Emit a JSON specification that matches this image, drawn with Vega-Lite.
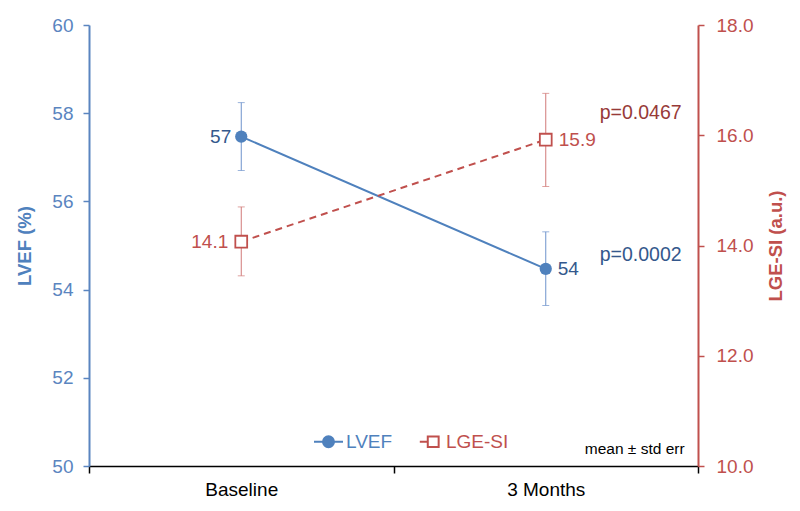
{
  "$schema": "https://vega.github.io/schema/vega-lite/v6.json",
  "width": 609,
  "height": 441,
  "autosize": "none",
  "padding": {"left": 89, "top": 25, "right": 102, "bottom": 45},
  "background": "white",
  "config": {
    "font": "Liberation Sans",
    "view": {"stroke": null},
    "axis": {"grid": false}
  },
  "datasets": {
    "stats": [
      {"series": "LVEF", "time": "Baseline", "mean": 57.47, "lo": 56.70, "hi": 58.24},
      {"series": "LVEF", "time": "3 Months", "mean": 54.47, "lo": 53.64, "hi": 55.31},
      {"series": "LGE-SI", "time": "Baseline", "mean": 14.07, "lo": 13.45, "hi": 14.70},
      {"series": "LGE-SI", "time": "3 Months", "mean": 15.92, "lo": 15.07, "hi": 16.76}
    ]
  },
  "data": {"name": "stats"},
  "encoding": {
    "x": {
      "field": "time",
      "type": "nominal",
      "sort": ["Baseline", "3 Months"],
      "scale": {"type": "band", "paddingInner": 0, "paddingOuter": 0},
      "axis": {
        "title": null,
        "labelAngle": 0,
        "tickBand": "extent",
        "domainColor": "black",
        "domainWidth": 1.5,
        "tickColor": "black",
        "tickWidth": 1.5,
        "tickSize": 7,
        "labelFontSize": 19,
        "labelColor": "black",
        "labelPadding": 7
      }
    }
  },
  "layer": [
    {
      "encoding": {
        "y": {
          "field": "mean",
          "type": "quantitative",
          "scale": {"domain": [50, 60], "nice": false, "zero": false},
          "axis": {
            "title": "LVEF (%)",
            "values": [50, 52, 54, 56, 58, 60],
            "domainColor": "#5A85C0",
            "domainWidth": 2,
            "tickColor": "#5A85C0",
            "tickWidth": 1.5,
            "tickSize": 6,
            "labelColor": "#5A85C0",
            "labelFontSize": 19,
            "labelPadding": 10,
            "titleColor": "#4F81BD",
            "titleFontSize": 18.5,
            "titleFontWeight": "bold",
            "titlePadding": 17
          }
        }
      },
      "layer": [
        {
          "transform": [{"filter": "datum.series === 'LVEF'"}],
          "mark": {"type": "rule", "color": "#6E93CC", "strokeWidth": 1},
          "encoding": {"y": {"field": "lo", "type": "quantitative"}, "y2": {"field": "hi"}}
        },
        {
          "transform": [{"filter": "datum.series === 'LVEF'"}],
          "mark": {"type": "tick", "color": "#6E93CC", "size": 7, "thickness": 1},
          "encoding": {"y": {"field": "lo", "type": "quantitative"}}
        },
        {
          "transform": [{"filter": "datum.series === 'LVEF'"}],
          "mark": {"type": "tick", "color": "#6E93CC", "size": 7, "thickness": 1},
          "encoding": {"y": {"field": "hi", "type": "quantitative"}}
        },
        {
          "transform": [{"filter": "datum.series === 'LVEF'"}],
          "mark": {"type": "line", "color": "#4F81BD", "strokeWidth": 2},
          "encoding": {}
        },
        {
          "transform": [{"filter": "datum.series === 'LVEF'"}],
          "mark": {"type": "point", "filled": true, "shape": "circle", "size": 150, "color": "#4F81BD", "opacity": 1},
          "encoding": {}
        },
        {
          "transform": [{"filter": "datum.series === 'LVEF' && datum.time === 'Baseline'"}],
          "mark": {"type": "text", "align": "right", "baseline": "middle", "dx": -10, "fontSize": 19, "color": "#34588C"},
          "encoding": {"text": {"field": "mean", "type": "quantitative", "format": ".0f"}}
        },
        {
          "transform": [{"filter": "datum.series === 'LVEF' && datum.time === '3 Months'"}],
          "mark": {"type": "text", "align": "left", "baseline": "middle", "dx": 12, "fontSize": 19, "color": "#34588C"},
          "encoding": {"text": {"field": "mean", "type": "quantitative", "format": ".0f"}}
        },
        {
          "data": {"values": [{"time": "3 Months", "y": 54.78, "label": "p=0.0002"}]},
          "mark": {"type": "text", "align": "left", "baseline": "middle", "dx": 54, "fontSize": 19.5, "color": "#34588C"},
          "encoding": {"y": {"field": "y", "type": "quantitative"}, "text": {"field": "label"}}
        },
        {
          "data": {"values": [{"time": "3 Months", "y": 50.38, "label": "mean ± std err"}]},
          "mark": {"type": "text", "align": "left", "baseline": "middle", "dx": 39, "fontSize": 15.5, "color": "black"},
          "encoding": {"y": {"field": "y", "type": "quantitative"}, "text": {"field": "label"}}
        },
        {
          "data": {"values": [{"time": "Baseline", "y": 55, "series": "LVEF"}, {"time": "Baseline", "y": 55, "series": "LGE-SI"}]},
          "mark": {"type": "point", "opacity": 0, "strokeWidth": 2},
          "encoding": {
            "y": {"field": "y", "type": "quantitative"},
            "stroke": {
              "field": "series",
              "type": "nominal",
              "scale": {"domain": ["LVEF", "LGE-SI"], "range": ["#4F81BD", "#C0504D"]},
              "legend": {
                "title": null,
                "orient": "none",
                "legendX": 224,
                "legendY": 401,
                "direction": "horizontal",
                "padding": 0,
                "symbolSize": 841,
                "symbolStrokeWidth": 2,
                "symbolOpacity": 1,
                "labelFontSize": 19,
                "labelOffset": 2,
                "columnPadding": 20,
                "labelColor": {"expr": "datum.value === 'LVEF' ? '#4F81BD' : '#C0504D'"}
              }
            },
            "fill": {
              "field": "series",
              "type": "nominal",
              "scale": {"domain": ["LVEF", "LGE-SI"], "range": ["#4F81BD", "#FFFFFF"]},
              "legend": {
                "title": null,
                "orient": "none",
                "legendX": 224,
                "legendY": 401,
                "direction": "horizontal",
                "padding": 0,
                "symbolSize": 841,
                "symbolStrokeWidth": 2,
                "symbolOpacity": 1,
                "labelFontSize": 19,
                "labelOffset": 2,
                "columnPadding": 20,
                "labelColor": {"expr": "datum.value === 'LVEF' ? '#4F81BD' : '#C0504D'"}
              }
            },
            "shape": {
              "field": "series",
              "type": "nominal",
              "scale": {
                "domain": ["LVEF", "LGE-SI"],
                "range": [
                  "M-1,0H1M0.38,0A0.38,0.38,0,1,1,-0.38,0A0.38,0.38,0,1,1,0.38,0Z",
                  "M-0.6,0H-0.05M-0.05,-0.37H0.7V0.37H-0.05Z"
                ]
              },
              "legend": {
                "title": null,
                "orient": "none",
                "legendX": 224,
                "legendY": 401,
                "direction": "horizontal",
                "padding": 0,
                "symbolSize": 841,
                "symbolStrokeWidth": 2,
                "symbolOpacity": 1,
                "labelFontSize": 19,
                "labelOffset": 2,
                "columnPadding": 20,
                "labelColor": {"expr": "datum.value === 'LVEF' ? '#4F81BD' : '#C0504D'"}
              }
            }
          }
        }
      ]
    },
    {
      "encoding": {
        "y": {
          "field": "mean",
          "type": "quantitative",
          "scale": {"domain": [10, 18], "nice": false, "zero": false},
          "axis": {
            "title": "LGE-SI (a.u.)",
            "orient": "right",
            "values": [10, 12, 14, 16, 18],
            "format": ".1f",
            "domainColor": "#C0504D",
            "domainWidth": 2,
            "tickColor": "#C0504D",
            "tickWidth": 1.5,
            "tickSize": 6,
            "labelColor": "#C0504D",
            "labelFontSize": 19,
            "labelPadding": 12,
            "titleColor": "#C0504D",
            "titleFontSize": 18.5,
            "titleFontWeight": "bold",
            "titleAngle": 270,
            "titlePadding": 33
          }
        }
      },
      "layer": [
        {
          "transform": [{"filter": "datum.series === 'LGE-SI'"}],
          "mark": {"type": "rule", "color": "#D17A78", "strokeWidth": 1},
          "encoding": {"y": {"field": "lo", "type": "quantitative"}, "y2": {"field": "hi"}}
        },
        {
          "transform": [{"filter": "datum.series === 'LGE-SI'"}],
          "mark": {"type": "tick", "color": "#D17A78", "size": 7, "thickness": 1},
          "encoding": {"y": {"field": "lo", "type": "quantitative"}}
        },
        {
          "transform": [{"filter": "datum.series === 'LGE-SI'"}],
          "mark": {"type": "tick", "color": "#D17A78", "size": 7, "thickness": 1},
          "encoding": {"y": {"field": "hi", "type": "quantitative"}}
        },
        {
          "transform": [{"filter": "datum.series === 'LGE-SI'"}],
          "mark": {"type": "line", "color": "#C0504D", "strokeWidth": 2, "strokeDash": [7, 5]},
          "encoding": {}
        },
        {
          "transform": [{"filter": "datum.series === 'LGE-SI'"}],
          "mark": {"type": "point", "filled": true, "shape": "square", "size": 140, "fill": "white", "stroke": "#C0504D", "strokeWidth": 1.8, "opacity": 1},
          "encoding": {}
        },
        {
          "transform": [{"filter": "datum.series === 'LGE-SI' && datum.time === 'Baseline'"}],
          "mark": {"type": "text", "align": "right", "baseline": "middle", "dx": -13, "fontSize": 19, "color": "#C0504D"},
          "encoding": {"text": {"field": "mean", "type": "quantitative", "format": ".1f"}}
        },
        {
          "transform": [{"filter": "datum.series === 'LGE-SI' && datum.time === '3 Months'"}],
          "mark": {"type": "text", "align": "left", "baseline": "middle", "dx": 13, "fontSize": 19, "color": "#C0504D"},
          "encoding": {"text": {"field": "mean", "type": "quantitative", "format": ".1f"}}
        },
        {
          "data": {"values": [{"time": "3 Months", "y": 16.4, "label": "p=0.0467"}]},
          "mark": {"type": "text", "align": "left", "baseline": "middle", "dx": 54, "fontSize": 19.5, "color": "#973A38"},
          "encoding": {"y": {"field": "y", "type": "quantitative"}, "text": {"field": "label"}}
        }
      ]
    }
  ],
  "resolve": {"scale": {"y": "independent", "shape": "independent", "fill": "independent", "stroke": "independent"}}
}
